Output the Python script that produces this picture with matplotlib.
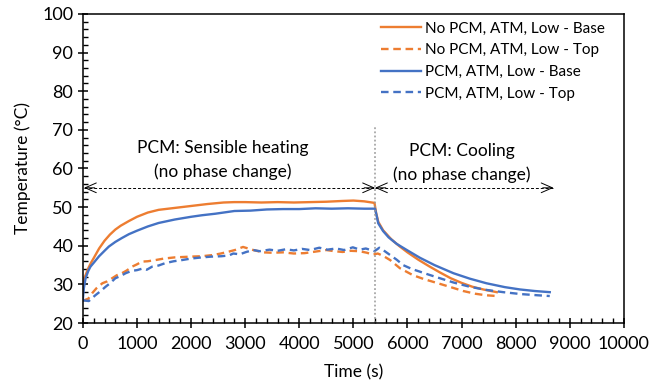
import matplotlib
matplotlib.use("Agg")
import matplotlib.pyplot as plt
from matplotlib.ticker import MultipleLocator

plt.rcParams['font.family'] = ['Lato', 'DejaVu Sans']

# No PCM, base thermocouple
t_nopcm_base = [0, 20, 50, 100, 150, 200, 300, 400, 500, 600, 700, 850, 1000, 1200, 1400, 1700,
                2000, 2300, 2600, 2800, 3000, 3300, 3600, 3900, 4200, 4500, 4800, 5000, 5200,
                5390, 5420, 5460, 5550, 5700, 5850, 6000, 6200, 6400, 6600, 6800, 7000, 7200,
                7400, 7650]
T_nopcm_base = [28.0, 31.5, 32.4, 34.2, 35.6, 36.8, 39.3, 41.3, 42.9, 44.2, 45.2, 46.4, 47.5,
                48.6, 49.3, 49.8, 50.3, 50.8, 51.2, 51.3, 51.3, 51.2, 51.3, 51.2, 51.3, 51.4,
                51.6, 51.7, 51.5, 51.1, 48.5, 46.2, 44.0, 41.7, 39.9, 38.3, 36.4, 34.7, 33.1,
                31.6, 30.4, 29.4, 28.7, 28.0]

# No PCM, top thermocouple
t_nopcm_top = [0, 100, 170, 250, 360, 450, 540, 630, 720, 810, 910, 1000, 1090, 1200, 1340,
               1500, 1700, 1850, 2000, 2200, 2400, 2550, 2700, 2810, 2960, 3150, 3330, 3500,
               3700, 3900, 4100, 4250, 4500, 4650, 4800, 4950, 5110, 5250, 5360, 5450, 5550,
               5680, 5860, 6100, 6300, 6540, 6800, 7030, 7250, 7450, 7650]
T_nopcm_top = [25.8, 26.3, 27.7, 29.0, 30.3, 30.8, 31.6, 32.4, 32.9, 33.6, 34.6, 35.2, 35.9,
               36.0, 36.3, 36.7, 37.0, 37.1, 37.2, 37.3, 37.6, 38.0, 38.5, 38.9, 39.7, 38.9,
               38.3, 38.2, 38.3, 38.0, 38.1, 38.4, 38.9, 38.6, 38.4, 38.7, 38.6, 38.2, 37.7,
               38.0, 37.4, 36.3, 34.2, 32.4, 31.4, 30.4, 29.3, 28.3, 27.6, 27.2, 27.0]

# PCM, base thermocouple
t_pcm_base = [0, 18, 50, 100, 140, 200, 300, 400, 480, 600, 720, 850, 1000, 1200, 1400, 1700,
              2000, 2200, 2450, 2800, 3100, 3400, 3700, 4000, 4300, 4600, 4900, 5200, 5400,
              5430, 5460, 5550, 5650, 5800, 6000, 6230, 6500, 6850, 7150, 7460, 7800, 8080,
              8350, 8630]
T_pcm_base = [26.3, 29.0, 31.6, 33.5, 34.6, 35.6, 37.3, 38.7, 39.8, 41.0, 42.0, 43.0, 43.9,
              45.0, 45.9, 46.8, 47.5, 47.9, 48.3, 49.0, 49.1, 49.4, 49.5, 49.5, 49.7, 49.6,
              49.7, 49.6, 49.6, 47.8, 45.8, 43.8, 42.2, 40.5, 38.8, 36.9, 35.0, 32.9, 31.5,
              30.3, 29.3, 28.7, 28.3, 28.0]

# PCM, top thermocouple
t_pcm_top = [0, 110, 230, 330, 420, 510, 600, 700, 790, 900, 1000, 1100, 1180, 1280, 1400,
             1520, 1680, 1830, 2000, 2200, 2380, 2560, 2700, 2780, 2900, 3020, 3150, 3270,
             3450, 3600, 3750, 3900, 4050, 4200, 4370, 4520, 4680, 4830, 4990, 5120, 5230,
             5390, 5480, 5560, 5680, 5800, 5920, 6080, 6230, 6400, 6600, 6850, 7150, 7450,
             7770, 8100, 8400, 8630]
T_pcm_top = [25.9, 25.7, 27.2, 28.3, 29.4, 30.4, 31.6, 32.2, 32.9, 33.5, 33.7, 34.1, 33.8,
             34.6, 34.9, 35.5, 36.0, 36.3, 36.7, 37.0, 37.2, 37.3, 37.5, 38.0, 37.8, 38.4,
             38.9, 38.6, 39.0, 38.7, 39.1, 38.8, 39.2, 38.9, 39.5, 39.0, 39.3, 38.9, 39.6,
             39.0, 39.3, 38.6, 39.5, 38.8, 37.6, 36.4, 35.0, 34.0, 33.3, 32.5, 31.6, 30.5,
             29.4, 28.6, 28.0, 27.5, 27.2, 27.0]

labels = ['No PCM, ATM, Low - Base', 'No PCM, ATM, Low - Top',
          'PCM, ATM, Low - Base', 'PCM, ATM, Low - Top']

orange = '#ED7D31'
blue = '#4472C4'

fig = plt.figure(figsize=(6.63, 3.86), dpi=100)
ax = fig.add_axes([0.125, 0.163, 0.816, 0.801])

dash = (0, (3.2, 2.0))
ax.plot(t_nopcm_base, T_nopcm_base, color=orange, lw=1.7, label=labels[0])
ax.plot(t_nopcm_top, T_nopcm_top, color=orange, lw=1.7, ls=dash, label=labels[1])
ax.plot(t_pcm_base, T_pcm_base, color=blue, lw=1.7, label=labels[2])
ax.plot(t_pcm_top, T_pcm_top, color=blue, lw=1.7, ls=dash, label=labels[3])

# phase boundary
ax.plot([5400, 5400], [20, 70.8], color='#999999', lw=1.1, ls=(0, (1.2, 1.5)))

# region arrows
def span_arrow(x0, x1, y):
    ax.plot([x0, x1], [y, y], color='black', lw=0.7, ls=(0, (3, 2)))
    for tip, tail in [(x0, x0 + 200), (x1, x1 - 200)]:
        ax.annotate('', xy=(tip, y), xytext=(tail, y),
                    arrowprops=dict(arrowstyle='->,head_length=0.8,head_width=0.35',
                                    lw=0.7, color='black', shrinkA=0, shrinkB=0))

span_arrow(20, 5400, 55)
span_arrow(5400, 8700, 55)

fs = 12.5
ax.text(2590, 65.3, 'PCM: Sensible heating', ha='center', va='center', fontsize=fs)
ax.text(2590, 59.2, '(no phase change)', ha='center', va='center', fontsize=fs)
ax.text(7003, 64.4, 'PCM: Cooling', ha='center', va='center', fontsize=fs)
ax.text(7003, 58.5, '(no phase change)', ha='center', va='center', fontsize=fs)

ax.set_xlim(0, 10000)
ax.set_ylim(20, 100)
ax.xaxis.set_major_locator(MultipleLocator(1000))
ax.xaxis.set_minor_locator(MultipleLocator(200))
ax.yaxis.set_major_locator(MultipleLocator(10))
ax.yaxis.set_minor_locator(MultipleLocator(2))
ax.tick_params(which='major', direction='inout', length=7, width=1.1, labelsize=13,
               colors='black')
ax.tick_params(axis='x', which='major', pad=6)
ax.tick_params(which='minor', direction='in', length=3.5, width=1.0)
for s in ax.spines.values():
    s.set_linewidth(1.1)
    s.set_color('black')

ax.set_xlabel('Time (s)', fontsize=12.5, labelpad=9)
ax.set_ylabel('Temperature (°C)', fontsize=12.5, labelpad=8)

ax.legend(loc='upper left', bbox_to_anchor=(0.545, 0.985), frameon=False, fontsize=11,
          handlelength=2.6, handletextpad=0.3, labelspacing=0.5, borderaxespad=0,
          borderpad=0.2)

fig.savefig('out.png', dpi=100)
